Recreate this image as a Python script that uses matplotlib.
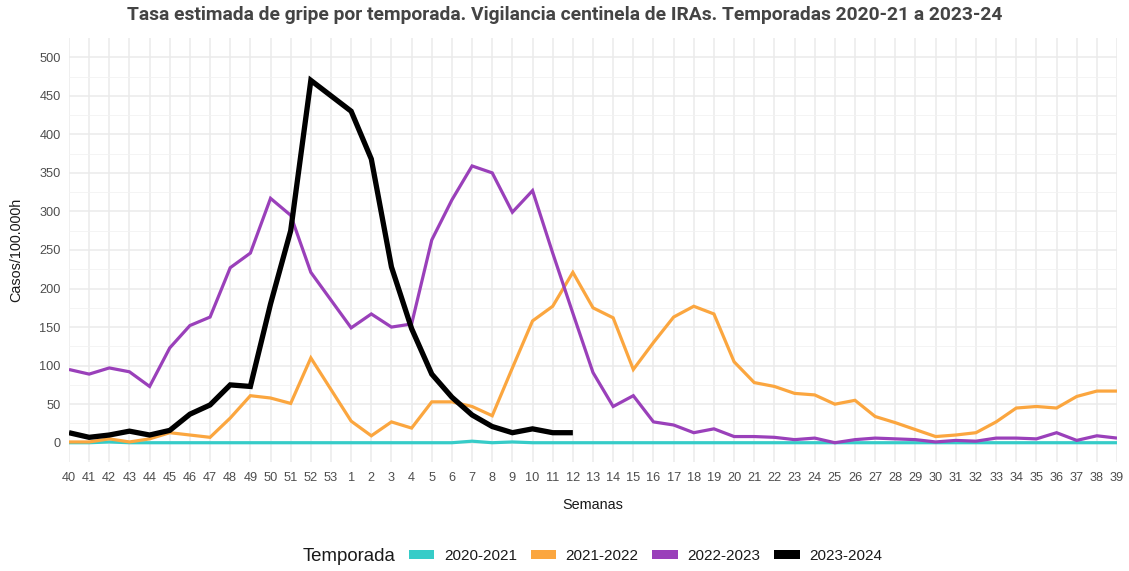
import matplotlib
matplotlib.use("Agg")
import matplotlib.pyplot as plt
from matplotlib.patches import Patch

plt.rcParams['font.family'] = ['Liberation Sans', 'DejaVu Sans']

weeks = [str(w) for w in list(range(40, 54)) + list(range(1, 40))]

s2020_2021 = [0, 0, 1, 0, 0, 0, 0, 0, 0, 0, 0, 0, 0, 0,
              0, 0, 0, 0, 0, 0, 2, 0, 1, 0, 0, 0, 0, 0, 0, 0,
              0, 0, 0, 0, 0, 0, 0, 0, 0, 0, 0, 0, 0, 0, 0, 0,
              0, 0, 0, 0, 0, 0, 0]
s2021_2022 = [1, 1, 5, 1, 5, 13, 10, 7, 32, 61, 58, 51, 110, 69,
              28, 9, 27, 19, 53, 53, 47, 35, 97, 158, 177, 221, 175, 162, 95, 130,
              163, 177, 167, 105, 78, 73, 64, 62, 50, 55, 34, 26, 17, 8, 10, 13,
              27, 45, 47, 45, 60, 67, 67]
s2022_2023 = [95, 89, 97, 92, 73, 123, 152, 163, 227, 246, 317, 295, 221, 185,
              149, 167, 150, 154, 263, 315, 359, 350, 299, 327, 246, 168, 91, 47, 61, 27,
              23, 13, 18, 8, 8, 7, 4, 6, 0, 4, 6, 5, 4, 1, 3, 2,
              6, 6, 5, 13, 3, 9, 6]
s2023_2024 = [13, 7, 10, 15, 10, 16, 37, 49, 75, 73, 180, 275, 470, 450,
              430, 368, 228, 148, 89, 59, 36, 21, 13, 18, 13, 13]

series = [
    ("2020-2021", s2020_2021, "#36CCC8", 2.3),
    ("2021-2022", s2021_2022, "#FBA63F", 2.3),
    ("2022-2023", s2022_2023, "#9A40BA", 2.3),
    ("2023-2024", s2023_2024, "#000000", 3.8),
]

fig = plt.figure(figsize=(11.29, 5.71), dpi=100)
ax = fig.add_axes([0.0611, 0.1909, 0.9283, 0.7426])

for name, vals, col, lw in series:
    ax.plot(range(len(vals)), vals, color=col, lw=lw, solid_joinstyle='miter',
            solid_capstyle='butt', zorder=3)

ax.set_xlim(0, len(weeks) - 1)
ax.set_ylim(-25, 525)
ax.set_xticks(range(len(weeks)))
ax.set_xticklabels(weeks)
ax.set_yticks(range(0, 501, 50))
ax.set_yticks(range(25, 501, 50), minor=True)
ax.grid(True, which='major', color='#EBEBEB', lw=1.1, zorder=0)
ax.grid(True, which='minor', axis='y', color='#F2F2F2', lw=0.6, zorder=0)
for sp in ax.spines.values():
    sp.set_visible(False)
ax.tick_params(axis='both', which='both', length=0, labelsize=9.2, labelcolor='#4D4D4D')
ax.tick_params(axis='x', pad=7)
ax.tick_params(axis='y', pad=6)

ax.set_xlabel("Semanas", fontsize=10.4, color='#1A1A1A')
ax.set_ylabel("Casos/100.000h", fontsize=10.4, color='#1A1A1A')
ax.xaxis.set_label_coords(0.5, -0.101)
ax.yaxis.set_label_coords(-0.0505, 0.5)
ax.xaxis.label.set_va('center')
ax.yaxis.label.set_va('center')

fig.suptitle("Tasa estimada de gripe por temporada. Vigilancia centinela de IRAs. Temporadas 2020-21 a 2023-24",
             x=0.5, y=0.974, fontsize=13.9, fontweight='bold', color='#444444', va='center',
             family=['Roboto', 'Liberation Sans', 'DejaVu Sans'])

handles = [Patch(facecolor=c, edgecolor='none') for _, _, c, _ in series]
labels = [n for n, _, _, _ in series]
leg = fig.legend(handles, labels, ncol=4, loc='center left',
                 bbox_to_anchor=(0.362, 0.026), frameon=False, fontsize=11,
                 handlelength=1.65, handleheight=0.55, handletextpad=0.65,
                 columnspacing=0.9, borderaxespad=0, borderpad=0)
for t in leg.get_texts():
    t.set_color('#1A1A1A')
fig.text(0.268, 0.026, "Temporada", fontsize=13.4, color='#1A1A1A', va='center', ha='left')

fig.savefig("out.png", dpi=100, facecolor='white')
